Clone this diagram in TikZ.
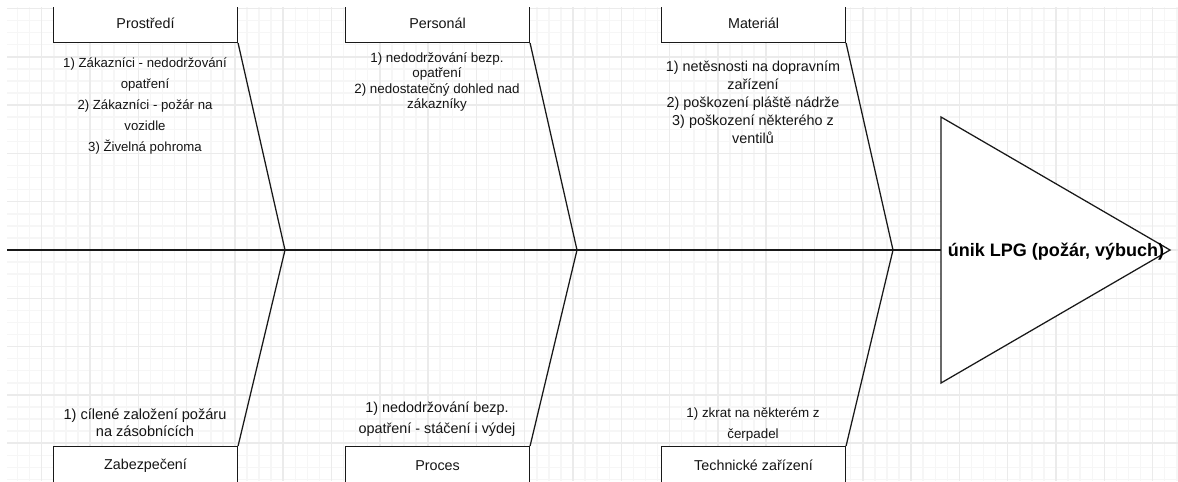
\documentclass[tikz,border=0pt]{standalone}
\usepackage{fontspec}
\setmainfont{Liberation Sans}
\usetikzlibrary{positioning}
\definecolor{lineDark}{RGB}{25, 25, 25}
\definecolor{textDark}{RGB}{20, 20, 20}
\definecolor{gridMinor}{RGB}{246, 246, 246}
\definecolor{gridMajor}{RGB}{235, 235, 235}
\tikzset{
  gridThin/.style={draw=gridMinor, line width=1.1pt},
  gridThick/.style={draw=gridMajor, line width=1.1pt},
  catBox/.style={
    draw=lineDark,
    line width=0.8pt,
    fill=white,
    minimum width=184*0.0265cm,
    minimum height=38*0.0265cm,
    inner sep=0pt,
    text=textDark,
    font=\fontsize{10.8pt}{13pt}\selectfont
  },
  causeText/.style={
    align=center,
    inner sep=0pt,
    text=textDark
  },
  boneLine/.style={draw=lineDark, line width=0.95pt},
  effectText/.style={
    inner sep=0pt,
    text=black,
    font=\fontsize{13.6pt}{16pt}\selectfont\bfseries
  }
}

\begin{document}
\begin{tikzpicture}[x=0.0265cm, y=-0.0265cm]
  \useasboundingbox (0,0) rectangle (1178,481);
  \begin{scope}
    \clip (7,7) rectangle (1178,481);
    % Grid
    \foreach \i in {0,...,97}
      \draw[gridThin] ({5.5+12.075*\i},7) -- ({5.5+12.075*\i},481);
    \foreach \i in {0,...,39}
      \draw[gridThin] (7,{8.5+12.075*\i}) -- (1178,{8.5+12.075*\i});
    \foreach \i in {0,...,23}
      \draw[gridThick] ({41.7+48.3*\i},7) -- ({41.7+48.3*\i},481);
    \foreach \i in {0,...,9}
      \draw[gridThick] (7,{8.5+48.3*\i}) -- (1178,{8.5+48.3*\i});

    % Spine and vertices
    \coordinate (spineStart) at (7,250);
    \coordinate (vertA) at (285,250);
    \coordinate (vertB) at (577,250);
    \coordinate (vertC) at (893,250);
    \coordinate (triTop) at (941,117);
    \coordinate (triBot) at (941,383);
    \coordinate (triTip) at (1170,250);
    \coordinate (triWest) at (941,250);
    \draw[boneLine] (spineStart) -- (triWest);

    % Head
    \draw[boneLine, fill=white] (triTop) -- (triTip) -- (triBot) -- cycle;
    \node[effectText] (effect) at (1056,252) {únik LPG (požár, výbuch)};

    % Top categories
    \node[catBox, anchor=south west] (prostredi) at (53,43) {Prostředí};
    \node[catBox, anchor=south west] (personal) at (345,43) {Personál};
    \node[catBox, anchor=south west] (material) at (661,43) {Materiál};

    % Bottom categories
    \node[catBox, anchor=north west] (zabezpeceni) at (53,446) {Zabezpečení};
    \node[catBox, anchor=north west] (proces) at (345,446) {Proces};
    \node[catBox, anchor=north west] (technicke) at (661,446) {Technické zařízení};

    % Bones
    \draw[boneLine] (prostredi.south east) -- (vertA) -- (zabezpeceni.north east);
    \draw[boneLine] (personal.south east) -- (vertB) -- (proces.north east);
    \draw[boneLine] (material.south east) -- (vertC) -- (technicke.north east);

    % Causes
    \node[causeText, font=\fontsize{9.95pt}{15.8pt}\selectfont] (prostrediCause) at (145,106)
      {1) Zákazníci - nedodržování\\opatření\\2) Zákazníci - požár na\\vozidle\\3) Živelná pohroma};
    \node[causeText, font=\fontsize{10.1pt}{11.6pt}\selectfont] (personalCause) at (437,82)
      {1) nedodržování bezp.\\opatření\\2) nedostatečný dohled nad\\zákazníky};
    \node[causeText, font=\fontsize{10.85pt}{13.6pt}\selectfont] (materialCause) at (753,102)
      {1) netěsnosti na dopravním\\zařízení\\2) poškození pláště nádrže\\3) poškození některého z\\ventilů};
    \node[causeText, font=\fontsize{11pt}{12.8pt}\selectfont] (zabezpeceniCause) at (145,423)
      {1) cílené založení požáru\\na zásobnících};
    \node[causeText, font=\fontsize{10.85pt}{15.8pt}\selectfont] (procesCause) at (437,419)
      {1) nedodržování bezp.\\opatření - stáčení i výdej};
    \node[causeText, font=\fontsize{10.1pt}{15.8pt}\selectfont] (technickeCause) at (753,424)
      {1) zkrat na některém z\\čerpadel};
  \end{scope}
\end{tikzpicture}
\end{document}
